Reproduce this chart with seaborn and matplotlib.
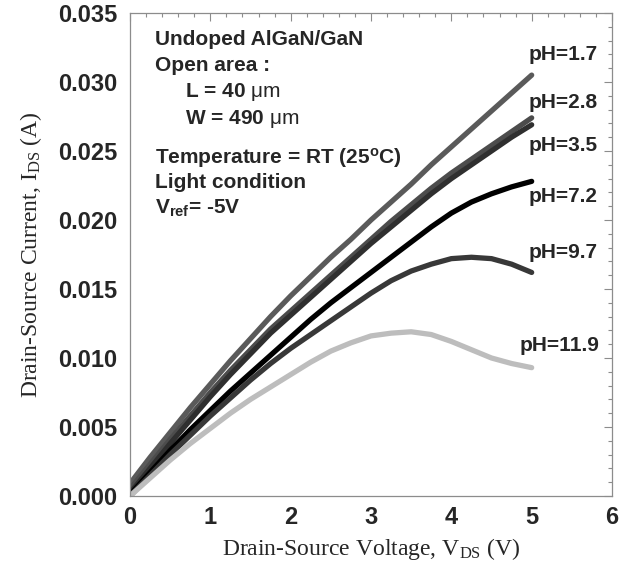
import numpy as np
import pandas as pd
import matplotlib
matplotlib.use("Agg")
import matplotlib.pyplot as plt
import seaborn as sns
from matplotlib.ticker import MultipleLocator, FormatStrFormatter

# ---- data ----
vds = [0.0, 0.25, 0.5, 0.75, 1.0, 1.25, 1.5, 1.75, 2.0, 2.25, 2.5,
       2.75, 3.0, 3.25, 3.5, 3.75, 4.0, 4.25, 4.5, 4.75, 5.0]
ids_ph17 = [0.0009, 0.0028, 0.0046, 0.0064, 0.0081, 0.0098, 0.0114, 0.0130, 0.0145, 0.0159, 0.0173,
            0.0186, 0.0200, 0.0213, 0.0226, 0.0240, 0.0253, 0.0266, 0.0279, 0.0292, 0.0305]
ids_ph28 = [0.0005, 0.0023, 0.0041, 0.0058, 0.0075, 0.0091, 0.0106, 0.0121, 0.0134, 0.0147, 0.0160,
            0.0173, 0.0186, 0.0199, 0.0211, 0.0223, 0.0234, 0.0244, 0.0254, 0.0264, 0.0274]
ids_ph35 = [0.0002, 0.0020, 0.0038, 0.0055, 0.0072, 0.0088, 0.0103, 0.0118, 0.0131, 0.0144, 0.0157,
            0.0170, 0.0183, 0.0195, 0.0207, 0.0219, 0.0230, 0.0240, 0.0250, 0.0260, 0.0269]
ids_ph72 = [0.0001, 0.0017, 0.0033, 0.0048, 0.0062, 0.0076, 0.0089, 0.0102, 0.0115, 0.0128, 0.0140,
            0.0151, 0.0162, 0.0173, 0.0184, 0.0195, 0.0205, 0.0213, 0.0219, 0.0224, 0.0228]
ids_ph97 = [0.0000, 0.0015, 0.0030, 0.0044, 0.0058, 0.0071, 0.0084, 0.0096, 0.0107, 0.0117, 0.0127,
            0.0137, 0.0147, 0.0156, 0.0163, 0.0168, 0.0172, 0.0173, 0.0172, 0.0168, 0.0162]
ids_ph119 = [0.0000, 0.0013, 0.0026, 0.0038, 0.0049, 0.0060, 0.0070, 0.0079, 0.0088, 0.0097, 0.0105,
             0.0111, 0.0116, 0.0118, 0.0119, 0.0117, 0.0112, 0.0106, 0.0100, 0.0096, 0.0093]

series_names = ["pH=1.7", "pH=2.8", "pH=3.5", "pH=7.2", "pH=9.7", "pH=11.9"]
series_values = [ids_ph17, ids_ph28, ids_ph35, ids_ph72, ids_ph97, ids_ph119]
series_colors = ["#5a5a5a", "#4c4c4c", "#2f2f2f", "#000000", "#383838", "#bdbdbd"]
label_x = [5.82, 5.82, 5.82, 5.82, 5.82, 5.84]
label_y = [0.0320, 0.02855, 0.02543, 0.02167, 0.01768, 0.01094]

x_ticks = [0, 1, 2, 3, 4, 5, 6]
y_ticks = [0.000, 0.005, 0.010, 0.015, 0.020, 0.025, 0.030, 0.035]

rows = []
for name, vals in zip(series_names, series_values):
    for v, i in zip(vds, vals):
        rows.append({"V": v, "I": i, "pH": name})
df = pd.DataFrame(rows)

sns.set_style("white")
plt.rcParams["font.family"] = ["Liberation Sans", "DejaVu Sans"]
plt.rcParams["mathtext.fontset"] = "custom"
plt.rcParams["mathtext.rm"] = "Liberation Serif"
plt.rcParams["mathtext.it"] = "Liberation Serif:italic"
plt.rcParams["mathtext.bf"] = "Liberation Sans:bold"
plt.rcParams["mathtext.sf"] = "Liberation Sans"

fig = plt.figure(figsize=(6.3, 5.68), dpi=100)
ax = fig.add_axes([130 / 630, 1 - 496 / 568, 482 / 630, 483 / 568])

sns.lineplot(data=df, x="V", y="I", hue="pH", palette=dict(zip(series_names, series_colors)),
             hue_order=series_names, sort=False, legend=False, ax=ax,
             linewidth=3.8, solid_capstyle="round", solid_joinstyle="round")

ax.set_xlim(0, 6)
ax.set_ylim(0, 0.035)
ax.set_xticks(x_ticks)
ax.set_yticks(y_ticks)
ax.xaxis.set_minor_locator(MultipleLocator(0.2))
ax.yaxis.set_minor_locator(MultipleLocator(0.001))
ax.yaxis.set_major_formatter(FormatStrFormatter("%.3f"))
ax.xaxis.set_major_formatter(FormatStrFormatter("%d"))

frame_col = "#8c8c8c"
for s in ax.spines.values():
    s.set_visible(True)
    s.set_color(frame_col)
    s.set_linewidth(0.9)
ax.tick_params(which="both", direction="in", top=True, right=True, color=frame_col, width=0.8)
ax.tick_params(which="major", length=6)
ax.tick_params(which="minor", length=3)
ax.tick_params(axis="y", which="major", labelsize=17, pad=9)
ax.tick_params(axis="x", which="major", labelsize=17, pad=7)
for lab in ax.get_xticklabels() + ax.get_yticklabels():
    lab.set_fontweight("bold")

ax.set_xlabel(r"Drain-Source Voltage, V$_{\mathrm{DS}}$ (V)", fontfamily="Liberation Serif",
              fontsize=17, labelpad=5)
ax.set_ylabel(r"Drain-Source Current, I$_{\mathrm{DS}}$ (A)", fontfamily="Liberation Serif",
              fontsize=17, labelpad=10)

for name, lx, ly in zip(series_names, label_x, label_y):
    ax.text(lx, ly, name, ha="right", va="center", fontsize=15, fontweight="bold")

ann = dict(fontsize=15, fontweight="bold", ha="left", va="baseline")
ax.text(0.311, 0.03268, "Undoped AlGaN/GaN", **ann)
ax.text(0.311, 0.03082, "Open area :", **ann)
ax.text(0.685, 0.02889, r"L = 40 $\mathsf{\mu m}$", **ann)
ax.text(0.685, 0.02696, r"W = 490 $\mathsf{\mu m}$", **ann)
ax.text(0.311, 0.02411, r"Temperature = RT (25$^{\mathbf{o}}$C)", **ann)
ax.text(0.311, 0.02230, "Light condition", **ann)
ax.text(0.311, 0.02049, r"V$_{\mathbf{ref}}$= -5V", **ann)

fig.savefig("out.png", dpi=100)
